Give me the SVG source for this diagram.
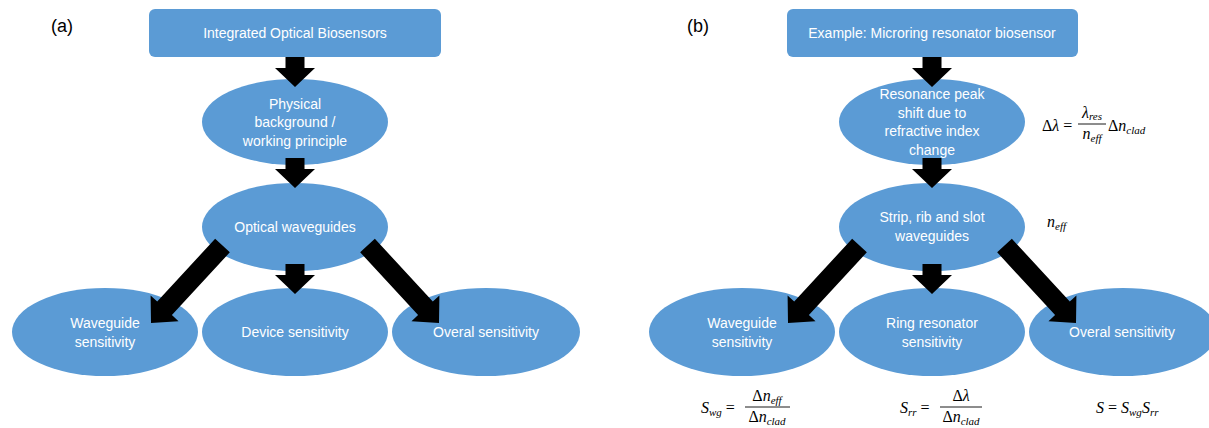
<svg xmlns="http://www.w3.org/2000/svg" width="1209" height="428" viewBox="0 0 1209 428">
<style>
.n{fill:#5B9BD5}
.t{font-family:"Liberation Sans",Arial,sans-serif;font-size:14px;fill:#fff;text-anchor:middle}
.p{font-family:"Liberation Sans",Arial,sans-serif;font-size:18px;fill:#000}
.a{fill:#000}
.m{font-family:"Liberation Serif","Times New Roman",serif;font-size:16px;font-style:italic;fill:#000}
.u{font-style:normal}
.s{font-size:11px}
.c{text-anchor:middle}
.f{stroke:#000;stroke-width:0.9}
</style>
<defs>
<polygon id="down" points="-9.5,0 9.5,0 9.5,11 20,11 0,30 -20,11 -9.5,11"/>
<polygon id="dl" points="215.15,238.72 229.85,252.28 171.91,315.08 178.53,321.18 151,323 150.59,295.42 157.21,301.52"/>
<polygon id="dr" points="374.85,238.72 360.15,252.28 418.09,315.08 411.47,321.18 439,323 439.41,295.42 432.79,301.52"/>
</defs>
<text class="p" x="51" y="32">(a)</text>
<text class="p" x="687" y="32">(b)</text>
<g id="nodes">
<g id="a-top"><rect class="n" x="149" y="9" width="292" height="48" rx="6"/><text class="t" x="295" y="38">Integrated Optical Biosensors</text></g>
<g id="a-physical"><ellipse class="n" cx="295" cy="122" rx="93" ry="43"/><text class="t" x="295" y="109">Physical</text><text class="t" x="295" y="127">background /</text><text class="t" x="295" y="146">working principle</text></g>
<g id="a-optical"><ellipse class="n" cx="295" cy="227" rx="93" ry="44"/><text class="t" x="295" y="232">Optical waveguides</text></g>
<g id="a-wg"><ellipse class="n" cx="105" cy="332" rx="93" ry="44"/><text class="t" x="105" y="328">Waveguide</text><text class="t" x="105" y="347">sensitivity</text></g>
<g id="a-device"><ellipse class="n" cx="295" cy="332" rx="93" ry="44"/><text class="t" x="295" y="337">Device sensitivity</text></g>
<g id="a-overal"><ellipse class="n" cx="486" cy="332" rx="94" ry="44"/><text class="t" x="486" y="337">Overal sensitivity</text></g>
<g id="b-top"><rect class="n" x="787" y="9" width="291" height="48" rx="6"/><text class="t" x="932" y="38">Example: Microring resonator biosensor</text></g>
<g id="b-resonance"><ellipse class="n" cx="932" cy="122" rx="93" ry="43"/><text class="t" x="932" y="99">Resonance peak</text><text class="t" x="932" y="118">shift due to</text><text class="t" x="932" y="136">refractive index</text><text class="t" x="932" y="155">change</text></g>
<g id="b-strip"><ellipse class="n" cx="932" cy="227" rx="93" ry="44"/><text class="t" x="932" y="222">Strip, rib and slot</text><text class="t" x="932" y="241">waveguides</text></g>
<g id="b-wg"><ellipse class="n" cx="742" cy="332" rx="93" ry="44"/><text class="t" x="742" y="328">Waveguide</text><text class="t" x="742" y="347">sensitivity</text></g>
<g id="b-ring"><ellipse class="n" cx="932" cy="332" rx="93" ry="44"/><text class="t" x="932" y="328">Ring resonator</text><text class="t" x="932" y="347">sensitivity</text></g>
<g id="b-overal"><ellipse class="n" cx="1123" cy="332" rx="94" ry="44"/><text class="t" x="1122" y="337">Overal sensitivity</text></g>
</g>
<g id="connectors" class="a">
<use href="#down" x="295" y="57"/>
<use href="#down" x="295" y="158"/>
<use href="#down" x="295" y="264"/>
<use href="#dl"/>
<use href="#dr"/>
<use href="#down" x="932" y="57"/>
<use href="#down" x="932" y="158"/>
<use href="#down" x="932" y="264"/>
<use href="#dl" x="637"/>
<use href="#dr" x="637"/>
</g>
<g id="formulas">
<text class="m" x="1042" y="131"><tspan class="u">Δ</tspan>λ<tspan class="u"> =</tspan></text>
<text class="m c" x="1092" y="118">λ<tspan class="s" dy="2">res</tspan></text>
<line class="f" x1="1078" y1="124" x2="1106" y2="124"/>
<text class="m c" x="1092" y="139">n<tspan class="s" dy="3">eff</tspan></text>
<text class="m" x="1108" y="131"><tspan class="u">Δ</tspan>n<tspan class="s" dy="3">clad</tspan></text>
<text class="m" x="1047" y="227">n<tspan class="s" dy="3">eff</tspan></text>
<text class="m" x="701" y="413">S<tspan class="s" dy="3">wg</tspan><tspan class="u" dy="-3"> =</tspan></text>
<text class="m c" x="767" y="401"><tspan class="u">Δ</tspan>n<tspan class="s" dy="3">eff</tspan></text>
<line class="f" x1="745" y1="407" x2="790" y2="407"/>
<text class="m c" x="767" y="422"><tspan class="u">Δ</tspan>n<tspan class="s" dy="3">clad</tspan></text>
<text class="m" x="900" y="413">S<tspan class="s" dy="3">rr</tspan><tspan class="u" dy="-3"> =</tspan></text>
<text class="m c" x="961" y="401"><tspan class="u">Δ</tspan>λ</text>
<line class="f" x1="940" y1="407" x2="982" y2="407"/>
<text class="m c" x="961" y="422"><tspan class="u">Δ</tspan>n<tspan class="s" dy="3">clad</tspan></text>
<text class="m" x="1096" y="413">S<tspan class="u"> = </tspan>S<tspan class="s" dy="3">wg</tspan><tspan dy="-3">S</tspan><tspan class="s" dy="3">rr</tspan></text>
</g>
</svg>
